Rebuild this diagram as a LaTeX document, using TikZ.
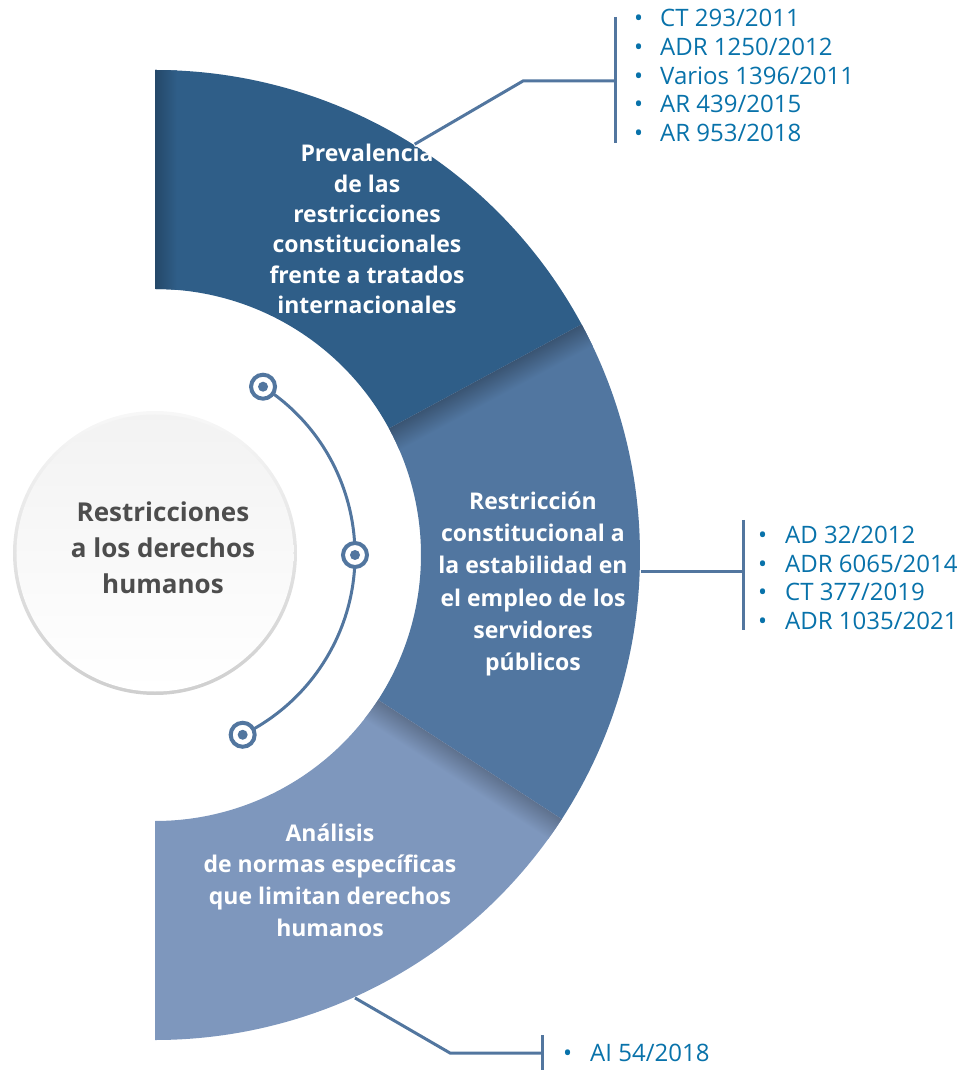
\documentclass[tikz,border=0pt]{standalone}
\usepackage{fontspec}
\setmainfont{Open Sans}
\usetikzlibrary{positioning}

\definecolor{topband}{HTML}{2F5E88}
\definecolor{midband}{HTML}{5176A0}
\definecolor{botband}{HTML}{7E97BD}
\definecolor{linkblue}{HTML}{52769F}
\definecolor{listtext}{HTML}{0872AA}
\definecolor{hubtext}{HTML}{4D4D4D}

\begin{document}
\begin{tikzpicture}[x=1pt,y=1pt,
  band label/.style={text=white, align=center,
    font=\bfseries\fontsize{23}{30.4}\selectfont},
  ref list/.style={text=listtext, align=left, anchor=west, inner sep=0pt,
    font=\fontsize{24}{28.7}\selectfont},
  link/.style={draw=linkblue, line width=3pt},
  dot/.style={circle, draw=linkblue, line width=4pt, fill=white,
    minimum size=24pt, inner sep=0pt,
    path picture={\fill[linkblue] (path picture bounding box.center) circle (5);}}]
\useasboundingbox (-155,-515) rectangle (813,555);

% the three bands of the half ring
\fill[topband] (90:485) arc[start angle=90, end angle=28.4, radius=485]
  -- (28.4:266) arc[start angle=28.4, end angle=90, radius=266] -- cycle;
\fill[midband] (28.4:485) arc[start angle=28.4, end angle=-33, radius=485]
  -- (-33:266) arc[start angle=-33, end angle=28.4, radius=266] -- cycle;
\fill[botband] (-33:485) arc[start angle=-33, end angle=-90, radius=485]
  -- (-90:266) arc[start angle=-90, end angle=-33, radius=266] -- cycle;

% soft shadows
\begin{scope}
  \clip (90:485) arc[start angle=90, end angle=28.4, radius=485]
    -- (28.4:266) arc[start angle=28.4, end angle=90, radius=266] -- cycle;
  \shade[left color=topband!75!black, right color=topband] (-2,250) rectangle (22,490);
\end{scope}
\begin{scope}
  \clip (28.4:485) arc[start angle=28.4, end angle=-33, radius=485]
    -- (-33:266) arc[start angle=-33, end angle=28.4, radius=266] -- cycle;
  \shade[transform canvas={rotate=28.4}, top color=midband!72!black, bottom color=midband]
    (250,-24) rectangle (500,0);
\end{scope}
\begin{scope}
  \clip (-33:485) arc[start angle=-33, end angle=-90, radius=485]
    -- (-90:266) arc[start angle=-90, end angle=-33, radius=266] -- cycle;
  \shade[transform canvas={rotate=-33}, top color=botband!75!black, bottom color=botband]
    (250,-24) rectangle (500,0);
\end{scope}

% hub
\shade[shading angle=45, top color=gray!6, bottom color=gray!38] (0,2) circle (142);
\shade[shading angle=45, top color=gray!10, bottom color=white] (0,2) circle (138.5);
\node[text=hubtext, align=center, font=\bfseries\fontsize{26}{36}\selectfont]
  (hub) at (8,7) {Restricciones\\a los derechos\\humanos};

% arc with the three dots
\coordinate (pTop) at (57.3:200);
\coordinate (pMid) at (0:200);
\coordinate (pBot) at (-64:200);
\draw[linkblue, line width=3pt] (pTop) arc[start angle=57.3, end angle=-64, radius=200];
\node[dot] (dotTop) at (pTop) {};
\node[dot] (dotMid) at (pMid) {};
\node[dot] (dotBot) at (pBot) {};

% band labels
\node[band label] (labTop) at (212,326)
  {Prevalencia\\de las\\restricciones\\constitucionales\\frente a tratados\\internacionales};
\node[band label, font=\bfseries\fontsize{23}{32.2}\selectfont] (labMid) at (378,-29)
  {Restricción\\constitucional a\\la estabilidad en\\el empleo de los\\servidores\\públicos};
\node[band label, font=\bfseries\fontsize{23}{31.7}\selectfont] (labBot) at (175,-325)
  {Análisis\\de normas específicas\\que limitan derechos\\humanos};

% reference lists
\node[ref list] (listTop) at (479,479.5)
  {\makebox[26pt][l]{\textbullet}CT 293/2011\\
   \makebox[26pt][l]{\textbullet}ADR 1250/2012\\
   \makebox[26pt][l]{\textbullet}Varios 1396/2011\\
   \makebox[26pt][l]{\textbullet}AR 439/2015\\
   \makebox[26pt][l]{\textbullet}AR 953/2018};
\node[ref list] (listMid) at (603,-23)
  {\makebox[27pt][l]{\textbullet}AD 32/2012\\
   \makebox[27pt][l]{\textbullet}ADR 6065/2014\\
   \makebox[27pt][l]{\textbullet}CT 377/2019\\
   \makebox[27pt][l]{\textbullet}ADR 1035/2021};
\node[ref list] (listBot) at (408,-498)
  {\makebox[27pt][l]{\textbullet}AI 54/2018};

% brackets and leaders
\coordinate (barTopA) at (460,538);
\coordinate (barTopB) at (460,412);
\coordinate (barMidA) at (588,35);
\coordinate (barMidB) at (588,-75);
\coordinate (barBotA) at (387,-480);
\coordinate (barBotB) at (387,-515);
\draw[link] (barTopA) -- (barTopB);
\draw[link] (barMidA) -- (barMidB);
\draw[link] (barBotA) -- (barBotB);

\coordinate (fromTop) at (57.7:486);
\coordinate (fromMid) at (-1.9:486);
\coordinate (fromBot) at (-65.7:486);
\draw[link] (fromTop) -- (368,474) -- (barTopA |- 0,474);
\draw[link] (fromMid) -- (barMidA |- fromMid);
\draw[link] (fromBot) -- (295,-498) -- (barBotA |- 0,-498);
\end{tikzpicture}
\end{document}
